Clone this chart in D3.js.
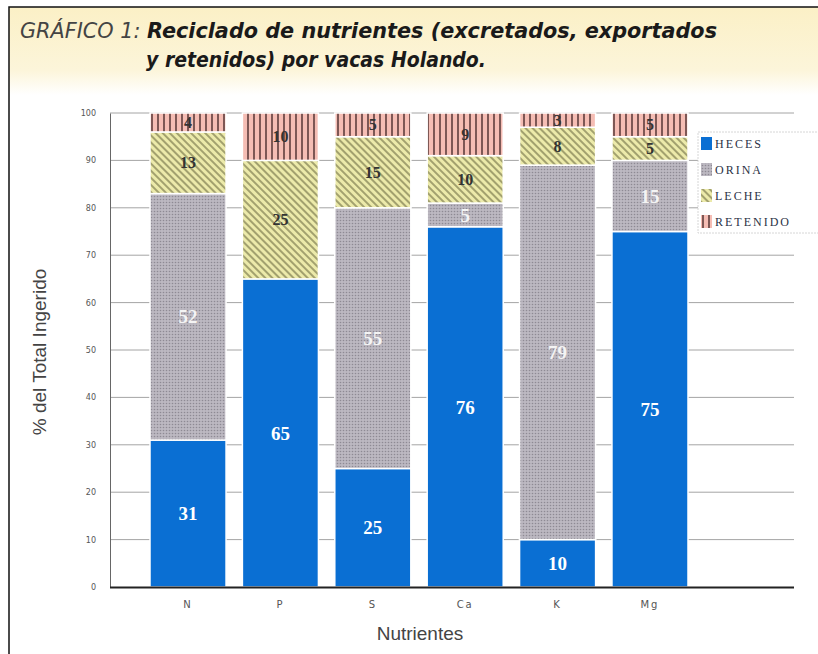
<!DOCTYPE html>
<html lang="es">
<head>
<meta charset="UTF-8">
<title>Reciclado de nutrientes</title>
<script src="https://d3js.org/d3.v7.min.js"></script>
<style>
    body { margin: 0; background: #fff; }
    svg { display: block; }
</style>
</head>
<body>
<div id="chart"></div>
<script>
    // data
    const categories = ["N", "P", "S", "Ca", "K", "Mg"];
    const heces = [31, 65, 25, 76, 10, 75];
    const orina = [52, 0, 55, 5, 79, 15];
    const leche = [13, 25, 15, 10, 8, 5];
    const retenido = [4, 10, 5, 9, 3, 5];
    const seriesNames = ["HECES", "ORINA", "LECHE", "RETENIDO"];
    const yTicks = [0, 10, 20, 30, 40, 50, 60, 70, 80, 90, 100];

    const W = 818, H = 654;

    const svg = d3.select("#chart").append("svg")
        .attr("width", W).attr("height", H);

    const defs = svg.append("defs");

    // title banner gradient
    const grad = defs.append("linearGradient").attr("id", "banner")
        .attr("x1", 0).attr("y1", 0).attr("x2", 0).attr("y2", 1);
    grad.append("stop").attr("offset", "0%").attr("stop-color", "#fbf0c6");
    grad.append("stop").attr("offset", "72%").attr("stop-color", "#fcf5da");
    grad.append("stop").attr("offset", "100%").attr("stop-color", "#ffffff");

    // ORINA: grey dotted texture
    const pOrina = defs.append("pattern").attr("id", "p-orina")
        .attr("patternUnits", "userSpaceOnUse").attr("width", 3).attr("height", 3);
    pOrina.append("rect").attr("width", 3).attr("height", 3).attr("fill", "#bcb8c1");
    pOrina.append("circle").attr("cx", 1.5).attr("cy", 1.5).attr("r", 0.8).attr("fill", "#8e8a94");

    // LECHE: yellow with diagonal stripes
    const pLeche = defs.append("pattern").attr("id", "p-leche")
        .attr("patternUnits", "userSpaceOnUse").attr("width", 5).attr("height", 5)
        .attr("patternTransform", "rotate(-45)");
    pLeche.append("rect").attr("width", 5).attr("height", 5).attr("fill", "#eceaaa");
    pLeche.append("line").attr("x1", 1).attr("y1", 0).attr("x2", 1).attr("y2", 5)
        .attr("stroke", "#66653d").attr("stroke-width", 1.1);

    // RETENIDO: pink with vertical stripes
    const pRet = defs.append("pattern").attr("id", "p-ret")
        .attr("patternUnits", "userSpaceOnUse").attr("width", 6).attr("height", 6);
    pRet.append("rect").attr("width", 6).attr("height", 6).attr("fill", "#f5bdb4");
    pRet.append("line").attr("x1", 2).attr("y1", 0).attr("x2", 2).attr("y2", 6)
        .attr("stroke", "#4a2c2c").attr("stroke-width", 1.4);

    const fills = {
        HECES: "#0a6fd3",
        ORINA: "url(#p-orina)",
        LECHE: "url(#p-leche)",
        RETENIDO: "url(#p-ret)"
    };
    const labelColor = { HECES: "#ffffff", ORINA: "#f4f4f4", LECHE: "#333", RETENIDO: "#333" };

    // banner + frame
    svg.append("rect").attr("x", 9).attr("y", 7).attr("width", W).attr("height", 88)
        .attr("fill", "url(#banner)");
    svg.append("path").attr("d", `M9,${H} L9,7 L${W},7`)
        .attr("fill", "none").attr("stroke", "#111").attr("stroke-width", 1.5);

    const titleFont = "'DejaVu Sans', 'Open Sans', sans-serif";
    const title = svg.append("text").attr("x", 20).attr("y", 38)
        .attr("textLength", 697).attr("lengthAdjust", "spacingAndGlyphs")
        .style("font-family", titleFont)
        .style("font-style", "italic").style("font-size", "21px");
    title.append("tspan").attr("fill", "#444").style("font-weight", 400).text("GRÁFICO 1: ");
    title.append("tspan").attr("fill", "#1a1a1a").style("font-weight", 700)
        .text("Reciclado de nutrientes (excretados, exportados");
    svg.append("text").attr("x", 146).attr("y", 67)
        .attr("textLength", 340).attr("lengthAdjust", "spacingAndGlyphs")
        .style("font-family", titleFont)
        .style("font-style", "italic").style("font-size", "21px").style("font-weight", 700)
        .attr("fill", "#1a1a1a")
        .text("y retenidos) por vacas Holando.");

    // scales
    const x = d3.scaleBand().domain(categories)
        .range([110, 728]).paddingInner(0.177).paddingOuter(0.433);
    const y = d3.scaleLinear().domain([0, 100]).range([587, 113]);

    // gridlines
    svg.append("g").selectAll("line").data(yTicks.filter(d => d > 0)).join("line")
        .attr("x1", 110).attr("x2", 794)
        .attr("y1", d => y(d)).attr("y2", d => y(d))
        .attr("stroke", "#9a9a9a").attr("stroke-width", 0.9);

    // y axis
    const yAxis = svg.append("g").attr("transform", "translate(110,0)")
        .call(d3.axisLeft(y).tickValues(yTicks).tickSize(0).tickPadding(14));
    yAxis.select(".domain").attr("stroke", "#666").attr("stroke-width", 1);
    yAxis.selectAll("text").attr("fill", "#555")
        .style("font-family", "'DejaVu Sans', sans-serif").style("font-size", "8px");

    // stacked data
    const rows = categories.map((c, i) => ({
        cat: c, HECES: heces[i], ORINA: orina[i], LECHE: leche[i], RETENIDO: retenido[i]
    }));
    const stack = d3.stack().keys(seriesNames)(rows);

    const groups = svg.append("g").selectAll("g").data(stack).join("g")
        .attr("fill", d => fills[d.key]);
    groups.selectAll("rect").data(d => d.filter(s => s[1] > s[0])).join("rect")
        .attr("x", d => x(d.data.cat))
        .attr("width", x.bandwidth())
        .attr("y", d => y(d[1]))
        .attr("height", d => y(d[0]) - y(d[1]))
        .attr("stroke", "#fff").attr("stroke-width", 1.5);

    // value labels
    const labels = svg.append("g");
    stack.forEach(layer => {
        layer.forEach(s => {
            if (s[1] <= s[0]) return;
            const small = layer.key === "RETENIDO" || layer.key === "LECHE";
            labels.append("text")
                .attr("x", x(s.data.cat) + x.bandwidth() / 2)
                .attr("y", (y(s[0]) + y(s[1])) / 2)
                .attr("dy", "0.35em")
                .attr("text-anchor", "middle")
                .attr("fill", labelColor[layer.key])
                .style("font-family", "'Liberation Serif', 'DejaVu Serif', serif")
                .style("font-weight", 700)
                .style("font-size", small ? "16px" : "19px")
                .text(s[1] - s[0]);
        });
    });

    // baseline
    svg.append("line").attr("x1", 110).attr("x2", 794).attr("y1", 587.5).attr("y2", 587.5)
        .attr("stroke", "#222").attr("stroke-width", 2);

    // x tick labels
    svg.append("g").selectAll("text").data(categories).join("text")
        .attr("x", d => x(d) + x.bandwidth() / 2)
        .attr("y", 608)
        .attr("text-anchor", "middle")
        .attr("fill", "#555")
        .style("font-family", "'DejaVu Sans', sans-serif")
        .style("font-size", "10px").style("letter-spacing", "2px")
        .text(d => d);

    // axis titles
    svg.append("text").attr("x", 420).attr("y", 640).attr("text-anchor", "middle")
        .attr("fill", "#444")
        .style("font-family", "'Liberation Sans', Arial, sans-serif").style("font-size", "19px")
        .text("Nutrientes");
    svg.append("text").attr("transform", "translate(46,352) rotate(-90)")
        .attr("text-anchor", "middle").attr("fill", "#444")
        .style("font-family", "'Liberation Sans', Arial, sans-serif").style("font-size", "19px")
        .text("% del Total Ingerido");

    // legend
    const legend = svg.append("g").attr("transform", "translate(698,132)");
    legend.append("rect").attr("width", 130).attr("height", 101)
        .attr("fill", "#fff").attr("stroke", "#ccc").attr("stroke-width", 0.8)
        .attr("stroke-dasharray", "2,1");
    const item = legend.selectAll("g").data(seriesNames).join("g")
        .attr("transform", (d, i) => `translate(3,${12 + i * 26})`);
    item.append("rect").attr("y", -7).attr("width", 11).attr("height", 13)
        .attr("fill", d => fills[d]);
    item.append("text").attr("x", 14).attr("dy", "0.35em")
        .attr("fill", "#2b3245")
        .style("font-family", "'Liberation Serif', 'DejaVu Serif', serif")
        .style("font-size", "12px").style("letter-spacing", "2px")
        .text(d => d);
</script>
</body>
</html>
